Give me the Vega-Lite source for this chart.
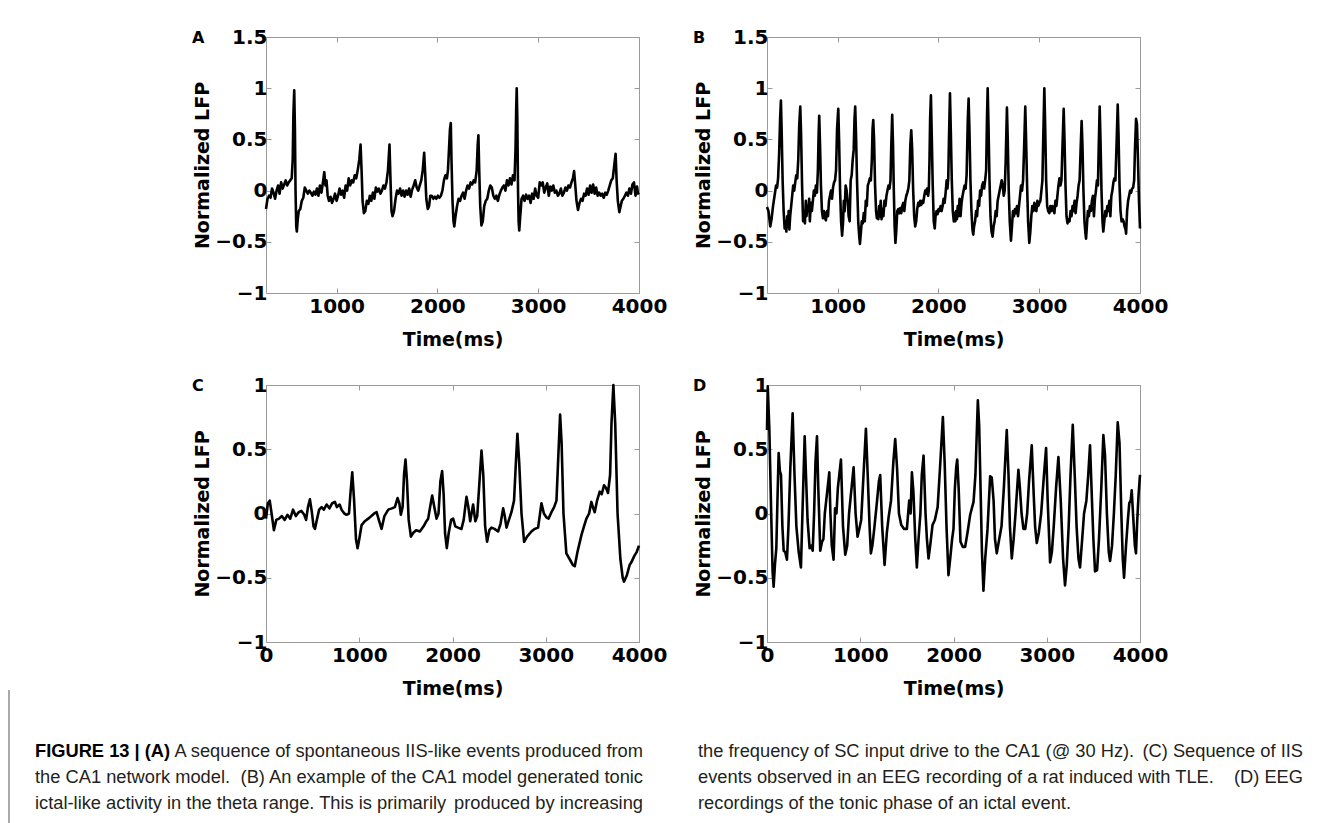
{
  "$schema": "https://vega.github.io/schema/vega-lite/v6.json",
  "background": "white",
  "padding": {"left": 8, "top": 26, "right": 0, "bottom": 0},
  "config": {
    "view": {"stroke": "#9b9b9b", "strokeWidth": 1},
    "font": "DejaVu Sans",
    "axis": {
      "labelFont": "DejaVu Sans", "labelFontSize": 20, "labelFontWeight": "bold", "labelColor": "#000000",
      "titleFont": "DejaVu Sans", "titleFontSize": 19, "titleFontWeight": "bold", "titleColor": "#000000",
      "domain": false, "grid": false, "tickColor": "#9b9b9b", "tickSize": -5, "labelOverlap": false, "labelFlush": false
    },
    "axisX": {"labelPadding": 8, "titlePadding": 14, "format": "d"},
    "axisY": {"labelPadding": 4, "titlePadding": 2, "format": "~g"},
    "title": {"font": "DejaVu Sans", "fontSize": 16, "fontWeight": "bold", "anchor": "start", "frame": "group", "offset": 0, "baseline": "middle", "dx": -74, "dy": 23, "color": "#000000"}
  },
  "datasets": {
    "A": [{"t":300,"v":-0.18},{"t":315,"v":-0.08},{"t":330,"v":-0.05},{"t":345,"v":-0.07},{"t":360,"v":0.02},{"t":375,"v":-0.02},{"t":390,"v":-0.08},{"t":405,"v":0.0},{"t":420,"v":0.05},{"t":435,"v":-0.03},{"t":450,"v":0.08},{"t":465,"v":0.02},{"t":480,"v":0.06},{"t":495,"v":0.1},{"t":510,"v":0.05},{"t":525,"v":0.08},{"t":540,"v":0.1},{"t":555,"v":0.12},{"t":565,"v":0.3},{"t":572,"v":0.75},{"t":580,"v":0.98},{"t":587,"v":0.6},{"t":593,"v":0.0},{"t":600,"v":-0.35},{"t":606,"v":-0.4},{"t":615,"v":-0.28},{"t":625,"v":-0.2},{"t":640,"v":-0.18},{"t":655,"v":-0.1},{"t":670,"v":-0.07},{"t":685,"v":0.03},{"t":700,"v":0.0},{"t":715,"v":-0.03},{"t":730,"v":0.0},{"t":745,"v":-0.02},{"t":760,"v":-0.05},{"t":775,"v":-0.01},{"t":790,"v":-0.04},{"t":805,"v":0.02},{"t":820,"v":-0.05},{"t":835,"v":0.05},{"t":850,"v":-0.02},{"t":865,"v":0.08},{"t":878,"v":0.18},{"t":890,"v":0.05},{"t":900,"v":0.1},{"t":912,"v":-0.05},{"t":925,"v":-0.1},{"t":940,"v":-0.06},{"t":955,"v":-0.12},{"t":970,"v":-0.08},{"t":985,"v":-0.03},{"t":1000,"v":-0.1},{"t":1015,"v":-0.05},{"t":1030,"v":0.02},{"t":1045,"v":-0.04},{"t":1060,"v":0.0},{"t":1075,"v":-0.07},{"t":1090,"v":0.05},{"t":1105,"v":0.0},{"t":1120,"v":0.12},{"t":1135,"v":0.05},{"t":1150,"v":0.1},{"t":1165,"v":0.08},{"t":1180,"v":0.15},{"t":1195,"v":0.12},{"t":1210,"v":0.2},{"t":1225,"v":0.3},{"t":1238,"v":0.45},{"t":1248,"v":0.2},{"t":1258,"v":-0.1},{"t":1271,"v":-0.22},{"t":1285,"v":-0.2},{"t":1300,"v":-0.1},{"t":1315,"v":-0.13},{"t":1330,"v":-0.05},{"t":1345,"v":-0.1},{"t":1360,"v":-0.02},{"t":1375,"v":-0.08},{"t":1390,"v":0.03},{"t":1405,"v":-0.01},{"t":1420,"v":0.02},{"t":1435,"v":-0.03},{"t":1450,"v":0.0},{"t":1465,"v":0.05},{"t":1480,"v":0.02},{"t":1495,"v":0.08},{"t":1510,"v":0.2},{"t":1525,"v":0.45},{"t":1535,"v":0.1},{"t":1545,"v":-0.2},{"t":1555,"v":-0.25},{"t":1570,"v":-0.2},{"t":1585,"v":-0.08},{"t":1600,"v":0.0},{"t":1615,"v":-0.03},{"t":1630,"v":0.02},{"t":1645,"v":-0.05},{"t":1660,"v":0.0},{"t":1675,"v":-0.06},{"t":1690,"v":0.0},{"t":1705,"v":-0.04},{"t":1720,"v":0.02},{"t":1735,"v":-0.06},{"t":1750,"v":0.01},{"t":1765,"v":0.05},{"t":1780,"v":0.1},{"t":1795,"v":0.03},{"t":1810,"v":0.0},{"t":1825,"v":0.05},{"t":1840,"v":0.1},{"t":1855,"v":0.2},{"t":1869,"v":0.37},{"t":1880,"v":0.15},{"t":1890,"v":-0.08},{"t":1905,"v":-0.18},{"t":1918,"v":-0.15},{"t":1930,"v":-0.05},{"t":1945,"v":-0.05},{"t":1960,"v":-0.08},{"t":1975,"v":-0.06},{"t":1990,"v":-0.08},{"t":2005,"v":-0.05},{"t":2020,"v":-0.07},{"t":2035,"v":-0.05},{"t":2050,"v":0.0},{"t":2065,"v":0.1},{"t":2080,"v":0.15},{"t":2095,"v":0.12},{"t":2105,"v":0.2},{"t":2115,"v":0.4},{"t":2125,"v":0.6},{"t":2133,"v":0.66},{"t":2140,"v":0.3},{"t":2150,"v":-0.1},{"t":2160,"v":-0.3},{"t":2168,"v":-0.35},{"t":2180,"v":-0.25},{"t":2195,"v":-0.15},{"t":2210,"v":-0.08},{"t":2225,"v":-0.1},{"t":2240,"v":-0.05},{"t":2255,"v":-0.02},{"t":2270,"v":-0.08},{"t":2285,"v":0.0},{"t":2300,"v":0.05},{"t":2315,"v":0.02},{"t":2330,"v":0.08},{"t":2345,"v":0.06},{"t":2360,"v":0.1},{"t":2375,"v":0.08},{"t":2390,"v":0.2},{"t":2400,"v":0.45},{"t":2407,"v":0.54},{"t":2415,"v":0.2},{"t":2425,"v":-0.15},{"t":2437,"v":-0.34},{"t":2450,"v":-0.3},{"t":2465,"v":-0.15},{"t":2480,"v":-0.1},{"t":2495,"v":-0.08},{"t":2510,"v":0.0},{"t":2525,"v":0.05},{"t":2540,"v":0.03},{"t":2555,"v":-0.05},{"t":2570,"v":-0.08},{"t":2585,"v":-0.05},{"t":2600,"v":-0.1},{"t":2615,"v":-0.04},{"t":2630,"v":0.0},{"t":2645,"v":0.03},{"t":2660,"v":0.05},{"t":2675,"v":0.0},{"t":2690,"v":0.1},{"t":2705,"v":0.05},{"t":2720,"v":0.12},{"t":2735,"v":0.06},{"t":2750,"v":0.15},{"t":2765,"v":0.1},{"t":2775,"v":0.4},{"t":2782,"v":0.8},{"t":2787,"v":1.0},{"t":2793,"v":0.7},{"t":2800,"v":0.0},{"t":2806,"v":-0.3},{"t":2812,"v":-0.39},{"t":2822,"v":-0.25},{"t":2835,"v":-0.08},{"t":2850,"v":-0.05},{"t":2865,"v":-0.1},{"t":2880,"v":-0.04},{"t":2895,"v":-0.08},{"t":2910,"v":-0.05},{"t":2925,"v":-0.12},{"t":2940,"v":-0.03},{"t":2955,"v":-0.08},{"t":2970,"v":0.02},{"t":2985,"v":-0.05},{"t":3000,"v":-0.07},{"t":3015,"v":0.08},{"t":3030,"v":0.05},{"t":3045,"v":0.08},{"t":3060,"v":-0.02},{"t":3075,"v":0.03},{"t":3090,"v":0.07},{"t":3105,"v":-0.05},{"t":3120,"v":0.04},{"t":3135,"v":0.0},{"t":3150,"v":0.05},{"t":3165,"v":-0.02},{"t":3180,"v":0.0},{"t":3195,"v":-0.05},{"t":3210,"v":-0.03},{"t":3225,"v":0.02},{"t":3240,"v":-0.05},{"t":3255,"v":-0.02},{"t":3270,"v":0.03},{"t":3285,"v":0.0},{"t":3300,"v":0.05},{"t":3315,"v":0.03},{"t":3330,"v":0.08},{"t":3345,"v":0.12},{"t":3356,"v":0.19},{"t":3368,"v":0.05},{"t":3380,"v":-0.1},{"t":3395,"v":-0.19},{"t":3410,"v":-0.12},{"t":3425,"v":-0.08},{"t":3440,"v":-0.1},{"t":3455,"v":-0.03},{"t":3470,"v":-0.05},{"t":3485,"v":0.02},{"t":3500,"v":-0.04},{"t":3515,"v":0.05},{"t":3530,"v":-0.02},{"t":3545,"v":0.06},{"t":3560,"v":-0.03},{"t":3575,"v":0.03},{"t":3590,"v":-0.05},{"t":3605,"v":-0.02},{"t":3620,"v":-0.05},{"t":3635,"v":-0.03},{"t":3650,"v":-0.07},{"t":3665,"v":-0.02},{"t":3680,"v":-0.04},{"t":3695,"v":0.0},{"t":3710,"v":0.05},{"t":3725,"v":0.1},{"t":3740,"v":0.12},{"t":3755,"v":0.25},{"t":3768,"v":0.36},{"t":3778,"v":0.1},{"t":3790,"v":-0.1},{"t":3805,"v":-0.21},{"t":3818,"v":-0.15},{"t":3830,"v":-0.1},{"t":3845,"v":-0.08},{"t":3860,"v":-0.05},{"t":3875,"v":-0.02},{"t":3890,"v":-0.05},{"t":3905,"v":0.02},{"t":3920,"v":-0.03},{"t":3935,"v":0.06},{"t":3950,"v":0.08},{"t":3965,"v":-0.05},{"t":3980,"v":0.04},{"t":3990,"v":-0.03},{"t":4000,"v":-0.02}],
    "B": [{"t":300,"v":-0.16},{"t":315,"v":-0.2},{"t":332,"v":-0.35},{"t":345,"v":-0.28},{"t":360,"v":-0.15},{"t":375,"v":-0.05},{"t":390,"v":0.05},{"t":400,"v":0.03},{"t":410,"v":0.12},{"t":420,"v":0.35},{"t":430,"v":0.7},{"t":438,"v":0.88},{"t":445,"v":0.6},{"t":455,"v":0.1},{"t":465,"v":-0.2},{"t":475,"v":-0.37},{"t":485,"v":-0.3},{"t":492,"v":-0.4},{"t":500,"v":-0.25},{"t":508,"v":-0.35},{"t":515,"v":-0.2},{"t":522,"v":-0.38},{"t":530,"v":-0.25},{"t":540,"v":-0.15},{"t":550,"v":-0.05},{"t":560,"v":0.05},{"t":570,"v":0.0},{"t":580,"v":0.08},{"t":590,"v":0.15},{"t":600,"v":0.12},{"t":610,"v":0.3},{"t":620,"v":0.65},{"t":630,"v":0.82},{"t":638,"v":0.55},{"t":648,"v":0.05},{"t":658,"v":-0.3},{"t":668,"v":-0.25},{"t":676,"v":-0.32},{"t":685,"v":-0.1},{"t":692,"v":-0.25},{"t":700,"v":-0.15},{"t":710,"v":-0.2},{"t":718,"v":-0.08},{"t":725,"v":-0.3},{"t":735,"v":-0.12},{"t":745,"v":-0.2},{"t":755,"v":-0.1},{"t":765,"v":0.0},{"t":775,"v":-0.05},{"t":785,"v":0.05},{"t":795,"v":-0.02},{"t":805,"v":0.2},{"t":812,"v":0.55},{"t":818,"v":0.73},{"t":826,"v":0.45},{"t":835,"v":0.05},{"t":845,"v":-0.2},{"t":855,"v":-0.27},{"t":865,"v":-0.2},{"t":875,"v":-0.27},{"t":884,"v":-0.29},{"t":895,"v":-0.2},{"t":905,"v":-0.25},{"t":915,"v":-0.1},{"t":925,"v":-0.05},{"t":935,"v":0.0},{"t":945,"v":-0.08},{"t":955,"v":0.03},{"t":965,"v":0.08},{"t":975,"v":0.1},{"t":985,"v":0.2},{"t":995,"v":0.6},{"t":1007,"v":0.8},{"t":1015,"v":0.5},{"t":1025,"v":0.0},{"t":1035,"v":-0.3},{"t":1045,"v":-0.44},{"t":1055,"v":-0.3},{"t":1062,"v":-0.1},{"t":1070,"v":-0.2},{"t":1080,"v":0.05},{"t":1090,"v":0.0},{"t":1100,"v":-0.1},{"t":1110,"v":-0.25},{"t":1120,"v":-0.3},{"t":1130,"v":0.1},{"t":1140,"v":0.15},{"t":1150,"v":0.3},{"t":1160,"v":0.4},{"t":1168,"v":0.7},{"t":1175,"v":0.82},{"t":1183,"v":0.55},{"t":1193,"v":0.1},{"t":1205,"v":-0.3},{"t":1215,"v":-0.45},{"t":1222,"v":-0.52},{"t":1232,"v":-0.4},{"t":1240,"v":-0.3},{"t":1250,"v":-0.32},{"t":1260,"v":-0.22},{"t":1270,"v":-0.3},{"t":1280,"v":-0.1},{"t":1290,"v":-0.15},{"t":1300,"v":0.05},{"t":1310,"v":0.08},{"t":1320,"v":0.12},{"t":1330,"v":0.1},{"t":1340,"v":0.3},{"t":1347,"v":0.6},{"t":1354,"v":0.69},{"t":1362,"v":0.5},{"t":1372,"v":0.05},{"t":1382,"v":-0.2},{"t":1390,"v":-0.27},{"t":1397,"v":-0.22},{"t":1405,"v":-0.28},{"t":1412,"v":-0.15},{"t":1420,"v":-0.25},{"t":1428,"v":-0.1},{"t":1436,"v":-0.28},{"t":1445,"v":-0.18},{"t":1455,"v":-0.25},{"t":1465,"v":-0.1},{"t":1475,"v":-0.15},{"t":1485,"v":-0.05},{"t":1495,"v":0.0},{"t":1505,"v":0.05},{"t":1515,"v":0.02},{"t":1525,"v":0.1},{"t":1533,"v":0.45},{"t":1542,"v":0.74},{"t":1550,"v":0.45},{"t":1558,"v":0.0},{"t":1566,"v":-0.35},{"t":1574,"v":-0.51},{"t":1582,"v":-0.4},{"t":1592,"v":-0.2},{"t":1602,"v":-0.18},{"t":1612,"v":-0.22},{"t":1622,"v":-0.17},{"t":1632,"v":-0.22},{"t":1642,"v":-0.15},{"t":1652,"v":-0.12},{"t":1662,"v":-0.2},{"t":1672,"v":-0.1},{"t":1682,"v":-0.05},{"t":1692,"v":-0.02},{"t":1702,"v":0.02},{"t":1712,"v":0.1},{"t":1722,"v":0.45},{"t":1731,"v":0.59},{"t":1740,"v":0.4},{"t":1750,"v":0.0},{"t":1760,"v":-0.25},{"t":1770,"v":-0.35},{"t":1780,"v":-0.3},{"t":1790,"v":-0.18},{"t":1800,"v":-0.12},{"t":1810,"v":-0.15},{"t":1820,"v":-0.1},{"t":1830,"v":-0.14},{"t":1840,"v":-0.1},{"t":1850,"v":-0.12},{"t":1860,"v":-0.05},{"t":1870,"v":0.0},{"t":1878,"v":-0.03},{"t":1888,"v":0.02},{"t":1898,"v":-0.05},{"t":1905,"v":0.0},{"t":1912,"v":0.3},{"t":1918,"v":0.7},{"t":1926,"v":0.93},{"t":1934,"v":0.55},{"t":1944,"v":0.05},{"t":1954,"v":-0.3},{"t":1964,"v":-0.37},{"t":1972,"v":-0.25},{"t":1982,"v":-0.2},{"t":1992,"v":-0.23},{"t":2002,"v":-0.18},{"t":2012,"v":-0.2},{"t":2022,"v":-0.15},{"t":2032,"v":-0.2},{"t":2042,"v":-0.15},{"t":2052,"v":-0.08},{"t":2062,"v":-0.12},{"t":2072,"v":-0.02},{"t":2082,"v":0.1},{"t":2090,"v":0.02},{"t":2098,"v":0.12},{"t":2105,"v":0.5},{"t":2115,"v":0.95},{"t":2123,"v":0.6},{"t":2133,"v":0.1},{"t":2143,"v":-0.2},{"t":2153,"v":-0.3},{"t":2160,"v":-0.22},{"t":2168,"v":-0.3},{"t":2176,"v":-0.2},{"t":2184,"v":-0.28},{"t":2192,"v":-0.15},{"t":2200,"v":-0.25},{"t":2210,"v":-0.08},{"t":2220,"v":-0.25},{"t":2230,"v":-0.12},{"t":2240,"v":-0.05},{"t":2250,"v":0.0},{"t":2260,"v":0.05},{"t":2270,"v":0.02},{"t":2280,"v":0.15},{"t":2292,"v":0.7},{"t":2300,"v":0.9},{"t":2308,"v":0.6},{"t":2318,"v":0.1},{"t":2328,"v":-0.2},{"t":2338,"v":-0.38},{"t":2346,"v":-0.43},{"t":2354,"v":-0.35},{"t":2364,"v":-0.3},{"t":2374,"v":-0.2},{"t":2384,"v":-0.25},{"t":2394,"v":-0.1},{"t":2404,"v":-0.15},{"t":2414,"v":0.0},{"t":2424,"v":-0.05},{"t":2434,"v":0.05},{"t":2444,"v":0.08},{"t":2454,"v":0.02},{"t":2464,"v":0.1},{"t":2474,"v":0.2},{"t":2482,"v":0.7},{"t":2489,"v":1.0},{"t":2497,"v":0.65},{"t":2507,"v":0.1},{"t":2517,"v":-0.25},{"t":2527,"v":-0.4},{"t":2538,"v":-0.45},{"t":2548,"v":-0.35},{"t":2558,"v":-0.3},{"t":2568,"v":-0.2},{"t":2578,"v":-0.25},{"t":2588,"v":-0.1},{"t":2598,"v":-0.05},{"t":2608,"v":0.0},{"t":2618,"v":0.05},{"t":2628,"v":0.1},{"t":2638,"v":0.05},{"t":2648,"v":-0.05},{"t":2658,"v":0.0},{"t":2668,"v":0.3},{"t":2680,"v":0.81},{"t":2688,"v":0.5},{"t":2698,"v":0.0},{"t":2708,"v":-0.3},{"t":2720,"v":-0.49},{"t":2730,"v":-0.35},{"t":2740,"v":-0.2},{"t":2750,"v":-0.25},{"t":2760,"v":-0.18},{"t":2770,"v":-0.22},{"t":2780,"v":-0.15},{"t":2790,"v":-0.25},{"t":2800,"v":-0.15},{"t":2810,"v":-0.05},{"t":2820,"v":0.05},{"t":2830,"v":0.0},{"t":2840,"v":0.1},{"t":2850,"v":0.4},{"t":2862,"v":0.82},{"t":2870,"v":0.5},{"t":2880,"v":0.05},{"t":2890,"v":-0.3},{"t":2902,"v":-0.51},{"t":2912,"v":-0.4},{"t":2922,"v":-0.25},{"t":2932,"v":-0.15},{"t":2942,"v":-0.2},{"t":2952,"v":-0.12},{"t":2962,"v":-0.18},{"t":2972,"v":-0.2},{"t":2982,"v":-0.1},{"t":2992,"v":-0.15},{"t":3002,"v":-0.12},{"t":3012,"v":-0.1},{"t":3022,"v":0.0},{"t":3032,"v":0.1},{"t":3040,"v":0.5},{"t":3051,"v":1.0},{"t":3059,"v":0.65},{"t":3069,"v":0.1},{"t":3079,"v":-0.15},{"t":3089,"v":-0.2},{"t":3101,"v":-0.22},{"t":3111,"v":-0.15},{"t":3121,"v":-0.2},{"t":3131,"v":-0.15},{"t":3141,"v":-0.18},{"t":3151,"v":-0.22},{"t":3161,"v":-0.1},{"t":3171,"v":-0.15},{"t":3181,"v":-0.05},{"t":3191,"v":0.05},{"t":3201,"v":0.12},{"t":3211,"v":0.05},{"t":3221,"v":0.1},{"t":3230,"v":0.4},{"t":3243,"v":0.8},{"t":3251,"v":0.5},{"t":3261,"v":0.05},{"t":3271,"v":-0.25},{"t":3281,"v":-0.32},{"t":3291,"v":-0.28},{"t":3301,"v":-0.3},{"t":3311,"v":-0.2},{"t":3321,"v":-0.25},{"t":3331,"v":-0.15},{"t":3341,"v":-0.2},{"t":3351,"v":-0.1},{"t":3361,"v":-0.22},{"t":3371,"v":-0.12},{"t":3381,"v":-0.05},{"t":3391,"v":0.05},{"t":3401,"v":0.1},{"t":3411,"v":0.4},{"t":3421,"v":0.68},{"t":3429,"v":0.45},{"t":3439,"v":0.0},{"t":3449,"v":-0.3},{"t":3459,"v":-0.42},{"t":3465,"v":-0.47},{"t":3473,"v":-0.35},{"t":3483,"v":-0.2},{"t":3493,"v":-0.25},{"t":3503,"v":-0.15},{"t":3513,"v":-0.2},{"t":3523,"v":-0.1},{"t":3533,"v":-0.05},{"t":3543,"v":-0.25},{"t":3553,"v":-0.08},{"t":3563,"v":0.0},{"t":3573,"v":0.1},{"t":3583,"v":0.05},{"t":3590,"v":0.4},{"t":3600,"v":0.82},{"t":3608,"v":0.5},{"t":3618,"v":0.0},{"t":3628,"v":-0.3},{"t":3636,"v":-0.4},{"t":3646,"v":-0.3},{"t":3656,"v":-0.2},{"t":3666,"v":-0.25},{"t":3676,"v":-0.15},{"t":3686,"v":-0.2},{"t":3696,"v":-0.1},{"t":3706,"v":-0.25},{"t":3716,"v":-0.05},{"t":3726,"v":0.0},{"t":3736,"v":0.08},{"t":3746,"v":0.12},{"t":3756,"v":0.1},{"t":3766,"v":0.4},{"t":3779,"v":0.84},{"t":3787,"v":0.55},{"t":3797,"v":0.05},{"t":3807,"v":-0.2},{"t":3817,"v":-0.3},{"t":3827,"v":-0.28},{"t":3837,"v":-0.3},{"t":3847,"v":-0.35},{"t":3857,"v":-0.38},{"t":3862,"v":-0.42},{"t":3872,"v":-0.2},{"t":3882,"v":-0.1},{"t":3892,"v":-0.05},{"t":3902,"v":0.0},{"t":3912,"v":-0.02},{"t":3922,"v":0.02},{"t":3932,"v":0.03},{"t":3942,"v":0.1},{"t":3950,"v":0.4},{"t":3961,"v":0.7},{"t":3970,"v":0.65},{"t":3980,"v":0.3},{"t":3990,"v":-0.1},{"t":4000,"v":-0.37}],
    "C": [{"t":0,"v":-0.04},{"t":20,"v":0.08},{"t":40,"v":0.1},{"t":60,"v":0.0},{"t":85,"v":-0.13},{"t":110,"v":-0.05},{"t":140,"v":-0.04},{"t":170,"v":-0.02},{"t":200,"v":-0.05},{"t":230,"v":-0.01},{"t":260,"v":-0.04},{"t":290,"v":0.03},{"t":320,"v":-0.02},{"t":350,"v":0.01},{"t":380,"v":0.02},{"t":410,"v":-0.01},{"t":430,"v":-0.05},{"t":450,"v":0.05},{"t":471,"v":0.11},{"t":490,"v":0.02},{"t":510,"v":-0.1},{"t":525,"v":-0.12},{"t":545,"v":-0.05},{"t":570,"v":0.03},{"t":596,"v":0.05},{"t":620,"v":0.03},{"t":650,"v":0.07},{"t":680,"v":0.04},{"t":710,"v":0.08},{"t":739,"v":0.09},{"t":760,"v":0.05},{"t":790,"v":0.07},{"t":810,"v":0.03},{"t":840,"v":0.0},{"t":864,"v":-0.01},{"t":890,"v":0.0},{"t":905,"v":0.15},{"t":925,"v":0.32},{"t":945,"v":0.1},{"t":965,"v":-0.2},{"t":982,"v":-0.27},{"t":1000,"v":-0.2},{"t":1025,"v":-0.09},{"t":1060,"v":-0.06},{"t":1096,"v":-0.04},{"t":1130,"v":-0.02},{"t":1160,"v":0.0},{"t":1186,"v":0.01},{"t":1210,"v":-0.05},{"t":1239,"v":-0.12},{"t":1270,"v":-0.02},{"t":1311,"v":0.03},{"t":1350,"v":0.04},{"t":1382,"v":0.05},{"t":1411,"v":0.12},{"t":1430,"v":0.08},{"t":1446,"v":-0.01},{"t":1465,"v":0.05},{"t":1480,"v":0.3},{"t":1496,"v":0.42},{"t":1512,"v":0.25},{"t":1530,"v":-0.05},{"t":1554,"v":-0.18},{"t":1580,"v":-0.15},{"t":1610,"v":-0.13},{"t":1650,"v":-0.14},{"t":1690,"v":-0.1},{"t":1720,"v":-0.06},{"t":1739,"v":-0.04},{"t":1760,"v":0.05},{"t":1782,"v":0.14},{"t":1805,"v":0.05},{"t":1829,"v":-0.04},{"t":1850,"v":0.0},{"t":1870,"v":0.25},{"t":1889,"v":0.33},{"t":1905,"v":0.15},{"t":1920,"v":-0.15},{"t":1939,"v":-0.27},{"t":1960,"v":-0.15},{"t":1985,"v":-0.05},{"t":2007,"v":-0.04},{"t":2030,"v":-0.1},{"t":2060,"v":-0.11},{"t":2096,"v":-0.12},{"t":2120,"v":-0.05},{"t":2150,"v":0.13},{"t":2170,"v":0.05},{"t":2190,"v":-0.06},{"t":2221,"v":0.07},{"t":2245,"v":-0.06},{"t":2265,"v":-0.02},{"t":2285,"v":0.2},{"t":2311,"v":0.49},{"t":2330,"v":0.3},{"t":2350,"v":-0.1},{"t":2371,"v":-0.22},{"t":2395,"v":-0.13},{"t":2418,"v":-0.11},{"t":2450,"v":-0.12},{"t":2489,"v":-0.14},{"t":2515,"v":-0.08},{"t":2543,"v":0.04},{"t":2560,"v":-0.02},{"t":2579,"v":-0.11},{"t":2605,"v":-0.05},{"t":2632,"v":0.01},{"t":2660,"v":0.1},{"t":2680,"v":0.4},{"t":2696,"v":0.62},{"t":2715,"v":0.4},{"t":2740,"v":0.0},{"t":2768,"v":-0.22},{"t":2800,"v":-0.18},{"t":2846,"v":-0.14},{"t":2880,"v":-0.12},{"t":2918,"v":-0.11},{"t":2935,"v":-0.02},{"t":2954,"v":0.08},{"t":2980,"v":0.0},{"t":3007,"v":-0.03},{"t":3030,"v":-0.04},{"t":3061,"v":0.01},{"t":3090,"v":0.05},{"t":3115,"v":0.1},{"t":3135,"v":0.45},{"t":3154,"v":0.77},{"t":3170,"v":0.55},{"t":3190,"v":0.0},{"t":3221,"v":-0.31},{"t":3260,"v":-0.36},{"t":3290,"v":-0.4},{"t":3311,"v":-0.41},{"t":3340,"v":-0.3},{"t":3382,"v":-0.17},{"t":3410,"v":-0.1},{"t":3436,"v":-0.04},{"t":3465,"v":0.0},{"t":3489,"v":0.09},{"t":3510,"v":0.04},{"t":3525,"v":0.01},{"t":3550,"v":0.1},{"t":3579,"v":0.17},{"t":3600,"v":0.15},{"t":3625,"v":0.22},{"t":3645,"v":0.2},{"t":3668,"v":0.16},{"t":3690,"v":0.3},{"t":3705,"v":0.7},{"t":3725,"v":1.0},{"t":3745,"v":0.7},{"t":3770,"v":0.0},{"t":3800,"v":-0.35},{"t":3825,"v":-0.5},{"t":3839,"v":-0.53},{"t":3870,"v":-0.48},{"t":3900,"v":-0.4},{"t":3918,"v":-0.38},{"t":3950,"v":-0.33},{"t":3975,"v":-0.3},{"t":4000,"v":-0.25}],
    "D": [{"t":0,"v":0.65},{"t":8,"v":0.99},{"t":25,"v":0.66},{"t":45,"v":0.0},{"t":60,"v":-0.45},{"t":71,"v":-0.57},{"t":85,"v":-0.4},{"t":100,"v":-0.27},{"t":112,"v":0.1},{"t":125,"v":0.47},{"t":138,"v":0.33},{"t":150,"v":0.3},{"t":165,"v":-0.1},{"t":179,"v":-0.29},{"t":195,"v":-0.3},{"t":214,"v":-0.36},{"t":230,"v":-0.1},{"t":250,"v":0.35},{"t":275,"v":0.78},{"t":295,"v":0.3},{"t":315,"v":-0.1},{"t":340,"v":-0.3},{"t":364,"v":-0.42},{"t":380,"v":0.0},{"t":404,"v":0.6},{"t":418,"v":0.3},{"t":435,"v":-0.05},{"t":457,"v":-0.27},{"t":475,"v":-0.25},{"t":490,"v":-0.29},{"t":505,"v":0.0},{"t":520,"v":0.4},{"t":536,"v":0.6},{"t":550,"v":0.2},{"t":571,"v":-0.29},{"t":590,"v":-0.22},{"t":605,"v":-0.2},{"t":620,"v":0.0},{"t":635,"v":0.1},{"t":650,"v":0.2},{"t":668,"v":0.32},{"t":680,"v":0.0},{"t":695,"v":-0.25},{"t":714,"v":-0.36},{"t":730,"v":0.04},{"t":745,"v":0.0},{"t":760,"v":0.2},{"t":793,"v":0.42},{"t":815,"v":-0.1},{"t":839,"v":-0.32},{"t":860,"v":-0.25},{"t":880,"v":0.0},{"t":900,"v":0.15},{"t":929,"v":0.36},{"t":950,"v":0.0},{"t":971,"v":-0.18},{"t":990,"v":-0.12},{"t":1010,"v":-0.05},{"t":1035,"v":0.3},{"t":1061,"v":0.66},{"t":1080,"v":0.3},{"t":1100,"v":-0.1},{"t":1114,"v":-0.31},{"t":1130,"v":-0.25},{"t":1150,"v":-0.12},{"t":1179,"v":0.09},{"t":1200,"v":0.25},{"t":1214,"v":0.3},{"t":1235,"v":-0.1},{"t":1261,"v":-0.4},{"t":1285,"v":-0.15},{"t":1304,"v":-0.03},{"t":1330,"v":0.1},{"t":1355,"v":0.4},{"t":1375,"v":0.58},{"t":1395,"v":0.35},{"t":1415,"v":0.0},{"t":1440,"v":-0.09},{"t":1470,"v":-0.12},{"t":1500,"v":-0.12},{"t":1525,"v":0.1},{"t":1540,"v":0.0},{"t":1554,"v":0.32},{"t":1570,"v":0.17},{"t":1590,"v":-0.2},{"t":1607,"v":-0.42},{"t":1625,"v":-0.2},{"t":1645,"v":0.0},{"t":1660,"v":0.3},{"t":1679,"v":0.45},{"t":1700,"v":0.0},{"t":1715,"v":-0.2},{"t":1732,"v":-0.35},{"t":1750,"v":-0.25},{"t":1775,"v":-0.09},{"t":1800,"v":-0.05},{"t":1830,"v":0.05},{"t":1855,"v":0.35},{"t":1886,"v":0.75},{"t":1905,"v":0.4},{"t":1925,"v":-0.1},{"t":1946,"v":-0.48},{"t":1965,"v":-0.35},{"t":1985,"v":-0.2},{"t":2000,"v":-0.12},{"t":2015,"v":0.2},{"t":2029,"v":0.36},{"t":2040,"v":0.42},{"t":2055,"v":0.2},{"t":2075,"v":-0.22},{"t":2100,"v":-0.26},{"t":2125,"v":-0.26},{"t":2150,"v":-0.15},{"t":2179,"v":-0.01},{"t":2200,"v":0.05},{"t":2215,"v":0.09},{"t":2235,"v":0.3},{"t":2261,"v":0.88},{"t":2275,"v":0.69},{"t":2290,"v":0.2},{"t":2305,"v":-0.3},{"t":2321,"v":-0.6},{"t":2340,"v":-0.35},{"t":2365,"v":-0.12},{"t":2393,"v":0.29},{"t":2410,"v":0.28},{"t":2430,"v":0.1},{"t":2445,"v":-0.2},{"t":2464,"v":-0.31},{"t":2490,"v":-0.2},{"t":2515,"v":-0.1},{"t":2540,"v":0.2},{"t":2571,"v":0.65},{"t":2590,"v":0.3},{"t":2605,"v":-0.1},{"t":2625,"v":-0.35},{"t":2645,"v":-0.2},{"t":2665,"v":0.0},{"t":2696,"v":0.34},{"t":2712,"v":0.2},{"t":2730,"v":0.0},{"t":2750,"v":-0.12},{"t":2770,"v":-0.12},{"t":2790,"v":0.0},{"t":2810,"v":0.25},{"t":2839,"v":0.53},{"t":2860,"v":0.15},{"t":2875,"v":-0.1},{"t":2893,"v":-0.23},{"t":2915,"v":-0.15},{"t":2940,"v":0.0},{"t":2965,"v":0.25},{"t":2993,"v":0.51},{"t":3010,"v":0.1},{"t":3036,"v":-0.38},{"t":3055,"v":-0.3},{"t":3075,"v":-0.1},{"t":3100,"v":0.2},{"t":3125,"v":0.44},{"t":3150,"v":0.1},{"t":3175,"v":-0.35},{"t":3196,"v":-0.56},{"t":3215,"v":-0.4},{"t":3235,"v":-0.1},{"t":3255,"v":0.3},{"t":3279,"v":0.69},{"t":3300,"v":0.3},{"t":3320,"v":-0.1},{"t":3340,"v":-0.35},{"t":3357,"v":-0.42},{"t":3380,"v":-0.2},{"t":3400,"v":0.0},{"t":3425,"v":0.1},{"t":3445,"v":0.3},{"t":3464,"v":0.53},{"t":3480,"v":0.2},{"t":3500,"v":-0.2},{"t":3518,"v":-0.45},{"t":3540,"v":-0.44},{"t":3560,"v":-0.2},{"t":3585,"v":0.2},{"t":3607,"v":0.61},{"t":3625,"v":0.45},{"t":3645,"v":0.0},{"t":3665,"v":-0.3},{"t":3679,"v":-0.37},{"t":3700,"v":-0.25},{"t":3720,"v":0.0},{"t":3740,"v":0.3},{"t":3761,"v":0.71},{"t":3780,"v":0.55},{"t":3800,"v":0.0},{"t":3815,"v":-0.35},{"t":3829,"v":-0.5},{"t":3850,"v":-0.25},{"t":3870,"v":-0.05},{"t":3885,"v":0.08},{"t":3900,"v":0.1},{"t":3911,"v":0.18},{"t":3925,"v":0.0},{"t":3945,"v":-0.25},{"t":3957,"v":-0.31},{"t":3970,"v":-0.06},{"t":3985,"v":0.15},{"t":4000,"v":0.3}],
    "capBold": [{"col":"left","line":1,"text":"FIGURE 13 | (A)"}],
    "capHead": [{"col":"left","line":2,"text":"the CA1 network model."},{"col":"left","line":3,"text":"ictal-like activity in the theta range. This is primarily"},{"col":"right","line":1,"text":"the frequency of SC input drive to the CA1 (@ 30 Hz)."},{"col":"right","line":2,"text":"events observed in an EEG recording of a rat induced with TLE."},{"col":"right","line":3,"text":"recordings of the tonic phase of an ictal event."}],
    "capTail": [{"col":"left","line":1,"text":"A sequence of spontaneous IIS-like events produced from"},{"col":"left","line":2,"text":"(B) An example of the CA1 model generated tonic"},{"col":"left","line":3,"text":"produced by increasing"},{"col":"right","line":1,"text":"(C) Sequence of IIS"},{"col":"right","line":2,"text":"(D) EEG"}]
  },
  "columns": 2,
  "align": "each",
  "bounds": "flush",
  "spacing": {"row": 92, "column": 128},
  "concat": [
    {
      "width": 373, "height": 256,
      "title": {"text": "A"},
      "data": {"name": "A"},
      "layer": [
        {"mark": {"type": "line", "color": "#000000", "strokeWidth": 2.6, "strokeJoin": "round"},
         "encoding": {
           "x": {"field": "t", "type": "quantitative", "scale": {"domain": [300, 4000], "nice": false, "zero": false}, "axis": {"orient": "bottom", "values": [1000, 2000, 3000, 4000], "title": "Time(ms)"}},
           "y": {"field": "v", "type": "quantitative", "scale": {"domain": [-1, 1.5], "nice": false, "zero": false}, "axis": {"orient": "left", "values": [-1, -0.5, 0, 0.5, 1, 1.5], "title": "Normalized LFP"}}
         }},
        {"mark": {"type": "line", "strokeOpacity": 0},
         "encoding": {
           "x": {"field": "t", "type": "quantitative", "axis": {"orient": "top", "values": [1000, 2000, 3000, 4000], "labels": false, "title": null}},
           "y": {"field": "v", "type": "quantitative", "axis": {"orient": "right", "values": [-1, -0.5, 0, 0.5, 1, 1.5], "labels": false, "title": null}}
         }}
      ],
      "resolve": {"axis": {"x": "independent", "y": "independent"}}
    },
    {
      "width": 373, "height": 256,
      "title": {"text": "B"},
      "data": {"name": "B"},
      "layer": [
        {"mark": {"type": "line", "color": "#000000", "strokeWidth": 2.6, "strokeJoin": "round"},
         "encoding": {
           "x": {"field": "t", "type": "quantitative", "scale": {"domain": [300, 4000], "nice": false, "zero": false}, "axis": {"orient": "bottom", "values": [1000, 2000, 3000, 4000], "title": "Time(ms)"}},
           "y": {"field": "v", "type": "quantitative", "scale": {"domain": [-1, 1.5], "nice": false, "zero": false}, "axis": {"orient": "left", "values": [-1, -0.5, 0, 0.5, 1, 1.5], "title": "Normalized LFP"}}
         }},
        {"mark": {"type": "line", "strokeOpacity": 0},
         "encoding": {
           "x": {"field": "t", "type": "quantitative", "axis": {"orient": "top", "values": [1000, 2000, 3000, 4000], "labels": false, "title": null}},
           "y": {"field": "v", "type": "quantitative", "axis": {"orient": "right", "values": [-1, -0.5, 0, 0.5, 1, 1.5], "labels": false, "title": null}}
         }}
      ],
      "resolve": {"axis": {"x": "independent", "y": "independent"}}
    },
    {
      "width": 373, "height": 257,
      "title": {"text": "C"},
      "data": {"name": "C"},
      "layer": [
        {"mark": {"type": "line", "color": "#000000", "strokeWidth": 2.6, "strokeJoin": "round"},
         "encoding": {
           "x": {"field": "t", "type": "quantitative", "scale": {"domain": [0, 4000], "nice": false, "zero": false}, "axis": {"orient": "bottom", "values": [0, 1000, 2000, 3000, 4000], "title": "Time(ms)"}},
           "y": {"field": "v", "type": "quantitative", "scale": {"domain": [-1, 1], "nice": false, "zero": false}, "axis": {"orient": "left", "values": [-1, -0.5, 0, 0.5, 1], "title": "Normalized LFP"}}
         }},
        {"mark": {"type": "line", "strokeOpacity": 0},
         "encoding": {
           "x": {"field": "t", "type": "quantitative", "axis": {"orient": "top", "values": [0, 1000, 2000, 3000, 4000], "labels": false, "title": null}},
           "y": {"field": "v", "type": "quantitative", "axis": {"orient": "right", "values": [-1, -0.5, 0, 0.5, 1], "labels": false, "title": null}}
         }}
      ],
      "resolve": {"axis": {"x": "independent", "y": "independent"}}
    },
    {
      "width": 373, "height": 257,
      "title": {"text": "D"},
      "data": {"name": "D"},
      "layer": [
        {"mark": {"type": "line", "color": "#000000", "strokeWidth": 2.6, "strokeJoin": "round"},
         "encoding": {
           "x": {"field": "t", "type": "quantitative", "scale": {"domain": [0, 4000], "nice": false, "zero": false}, "axis": {"orient": "bottom", "values": [0, 1000, 2000, 3000, 4000], "title": "Time(ms)"}},
           "y": {"field": "v", "type": "quantitative", "scale": {"domain": [-1, 1], "nice": false, "zero": false}, "axis": {"orient": "left", "values": [-1, -0.5, 0, 0.5, 1], "title": "Normalized LFP"}}
         }},
        {"mark": {"type": "line", "strokeOpacity": 0},
         "encoding": {
           "x": {"field": "t", "type": "quantitative", "axis": {"orient": "top", "values": [0, 1000, 2000, 3000, 4000], "labels": false, "title": null}},
           "y": {"field": "v", "type": "quantitative", "axis": {"orient": "right", "values": [-1, -0.5, 0, 0.5, 1], "labels": false, "title": null}}
         }}
      ],
      "resolve": {"axis": {"x": "independent", "y": "independent"}}
    },
    {
      "width": 1, "height": 89,
      "view": {"stroke": null},
      "layer": [
        {"data": {"values": [{"edge": "frame"}]},
         "mark": {"type": "rule", "color": "#555555", "strokeWidth": 1},
         "encoding": {
           "x": {"datum": 0, "type": "quantitative", "scale": {"domain": [0, 1], "range": [-257, 1077]}, "axis": null},
           "y": {"datum": 0, "type": "quantitative", "scale": {"domain": [0, 1], "range": [-44, 89]}, "axis": null},
           "y2": {"datum": 1}
         }},
        {"data": {"name": "capBold"},
         "mark": {"type": "text", "align": "left", "baseline": "middle", "font": "Liberation Sans", "fontSize": 18.3, "fontWeight": "bold", "color": "#000000"},
         "encoding": {
           "x": {"field": "col", "type": "nominal", "scale": {"type": "point", "domain": ["left", "right"], "range": [-231, 432], "padding": 0}, "axis": null},
           "y": {"field": "line", "type": "ordinal", "scale": {"type": "point", "domain": [1, 2, 3], "range": [18, 70], "padding": 0}, "axis": null},
           "text": {"field": "text"}
         }},
        {"data": {"name": "capHead"},
         "mark": {"type": "text", "align": "left", "baseline": "middle", "font": "Liberation Sans", "fontSize": 18.3, "color": "#231f20"},
         "encoding": {
           "x": {"field": "col", "type": "nominal", "scale": {"type": "point", "domain": ["left", "right"], "range": [-231, 432], "padding": 0}, "axis": null},
           "y": {"field": "line", "type": "ordinal", "scale": {"type": "point", "domain": [1, 2, 3], "range": [18, 70], "padding": 0}, "axis": null},
           "text": {"field": "text"}
         }},
        {"data": {"name": "capTail"},
         "mark": {"type": "text", "align": "right", "baseline": "middle", "font": "Liberation Sans", "fontSize": 18.3, "color": "#231f20"},
         "encoding": {
           "x": {"field": "col", "type": "nominal", "scale": {"type": "point", "domain": ["left", "right"], "range": [377, 1037], "padding": 0}, "axis": null},
           "y": {"field": "line", "type": "ordinal", "scale": {"type": "point", "domain": [1, 2, 3], "range": [18, 70], "padding": 0}, "axis": null},
           "text": {"field": "text"}
         }}
      ],
      "resolve": {"scale": {"x": "independent", "y": "independent"}}
    }
  ]
}
